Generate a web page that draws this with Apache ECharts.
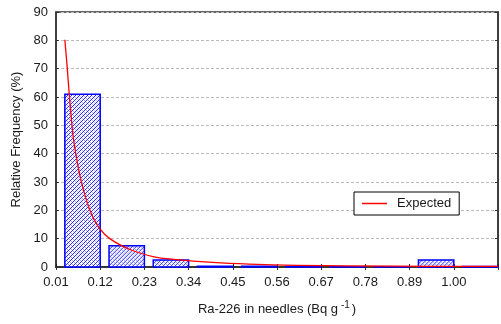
<!DOCTYPE html>
<html>
<head>
<meta charset="utf-8">
<script src="https://cdn.jsdelivr.net/npm/echarts@6/dist/echarts.min.js"></script>
<style>
  html, body { margin: 0; padding: 0; background: #fff; }
  #chart { width: 501px; height: 324px; }
</style>
</head>
<body>
<div id="chart"></div>
<script>
// histogram bins (Bq g-1) and relative frequency (%)
const binLo = [0.01, 0.12, 0.23, 0.34, 0.45, 0.56, 0.67, 0.78, 0.89, 1.00]
const binHi = [0.12, 0.23, 0.34, 0.45, 0.56, 0.67, 0.78, 0.89, 1.00, 1.11]
const freq = [61, 7.5, 2.5, 0.3, 0.3, 0.2, 0.1, 0.1, 2.5, 0.2]

// expected curve
const expX = [0.032, 0.038, 0.043, 0.052, 0.059, 0.073, 0.094, 0.114, 0.143, 0.197, 0.254, 0.303, 0.40, 0.49, 0.61, 0.86, 1.11]
const expY = [80.2, 70.2, 61, 46.9, 40.2, 30.1, 20.1, 14.5, 10.1, 6.0, 3.6, 2.7, 1.6, 1.0, 0.6, 0.3, 0.2]

const xMin = 0.01
const xMax = 1.11
const xStep = 0.11

// "/" hatch lines clipped to a rect, every 4px, dotted lines in between
const hatchLines = (x, y, w, h) => {
  const out = []
  const step = 4
  for (let c = x + y, k = 0; c <= x + w + y + h; c += step / 2, k++) {
    const x1 = Math.max(x, c - y - h)
    const x2 = Math.min(x + w, c - y)
    if (x2 - x1 < 0.5) continue
    const main = k % 2 === 0
    out.push({
      type: "line",
      shape: { x1: x1, y1: c - x1, x2: x2, y2: c - x2 },
      style: main
        ? { stroke: "#2a2aff", lineWidth: 1 }
        : { stroke: "#7a7aff", lineWidth: 1, lineDash: [1, 2] },
      silent: true,
    })
  }
  return out
}

const chart = echarts.init(document.getElementById("chart"))

const labelFont = { fontFamily: "Liberation Sans, Arial, sans-serif", fontSize: 13, color: "#1a1a1a" }

const option = {
  animation: false,
  backgroundColor: "#fff",
  grid: {
    left: 56,
    right: 1,
    top: 12,
    bottom: 57,
    show: true,
    borderColor: "#333",
    borderWidth: 1.5,
  },
  legend: {
    data: ["Expected"],
    icon: "rect",
    left: 354,
    top: 192,
    orient: "horizontal",
    backgroundColor: "#fff",
    borderColor: "#000",
    borderWidth: 1,
    borderRadius: 0,
    padding: [4, 8, 4, 8],
    itemWidth: 25,
    itemHeight: 1.5,
    textStyle: { ...labelFont, padding: [0, 0, 0, 5], lineHeight: 15 },
  },
  xAxis: [
    {
      type: "value",
      min: xMin,
      max: xMax,
      interval: xStep,
      position: "bottom",
      name: "{t|Ra-226 in needles (Bq g}{s| -1}{t|)}",
      nameLocation: "middle",
      nameGap: 33,
      nameTextStyle: {
        rich: {
          t: { ...labelFont, fontSize: 13, verticalAlign: "bottom", lineHeight: 16 },
          s: { ...labelFont, fontSize: 10, verticalAlign: "top", lineHeight: 16, padding: [0, 2, 8, 0] },
        },
      },
      axisLine: { lineStyle: { color: "#222", width: 1.5 } },
      axisTick: { inside: true, length: 3, lineStyle: { color: "#222" } },
      axisLabel: {
        ...labelFont,
        margin: 9,
        formatter: (v) => (v > 1.05 ? "" : v.toFixed(2)),
      },
      splitLine: { show: false },
    },
    {
      type: "value",
      min: xMin,
      max: xMax,
      interval: xStep,
      position: "top",
      axisLine: { lineStyle: { color: "#333", width: 1.5 } },
      axisTick: { inside: true, length: 3, lineStyle: { color: "#333" } },
      axisLabel: { show: false },
      splitLine: { show: false },
    },
  ],
  yAxis: [
    {
      type: "value",
      min: 0,
      max: 90,
      interval: 10,
      name: "Relative Frequency (%)",
      nameLocation: "middle",
      nameGap: 32,
      nameTextStyle: { ...labelFont },
      axisLine: { show: true, lineStyle: { color: "#333", width: 1.5 } },
      axisTick: { show: true, inside: true, length: 3, lineStyle: { color: "#333" } },
      axisLabel: { ...labelFont, margin: 8 },
      splitLine: { lineStyle: { type: [3, 2], color: "#bbb" } },
    },
    {
      type: "value",
      min: 0,
      max: 90,
      interval: 10,
      position: "right",
      axisLine: { show: true, lineStyle: { color: "#333", width: 1.5 } },
      axisTick: { show: true, inside: true, length: 3, lineStyle: { color: "#333" } },
      axisLabel: { show: false },
      splitLine: { show: false },
    },
  ],
  series: [
    {
      name: "Frequency",
      type: "custom",
      xAxisIndex: 0,
      yAxisIndex: 0,
      data: freq.map((f, i) => [binLo[i], binHi[i], f]),
      renderItem: (params, api) => {
        const lo = api.coord([api.value(0), 0])
        const hi = api.coord([api.value(1), api.value(2)])
        const gap = (hi[0] - lo[0]) * 0.2
        const x = lo[0] + gap
        const y = hi[1]
        const w = hi[0] - lo[0] - gap
        const h = lo[1] - hi[1]
        return {
          type: "group",
          children: [
            { type: "rect", shape: { x, y, width: w, height: h }, style: { fill: "#fff" } },
            ...hatchLines(x, y, w, h),
            { type: "rect", shape: { x, y, width: w, height: h }, style: { fill: null, stroke: "#0000ff", lineWidth: 1.5 } },
          ],
        }
      },
      z: 2,
    },
    {
      name: "Expected",
      type: "line",
      xAxisIndex: 0,
      yAxisIndex: 0,
      data: expX.map((x, i) => [x, expY[i]]),
      smooth: 0.4,
      symbol: "none",
      lineStyle: { color: "#ff0000", width: 1.3 },
      itemStyle: { color: "#ff0000" },
      z: 3,
    },
  ],
}

chart.setOption(option)
</script>
</body>
</html>
